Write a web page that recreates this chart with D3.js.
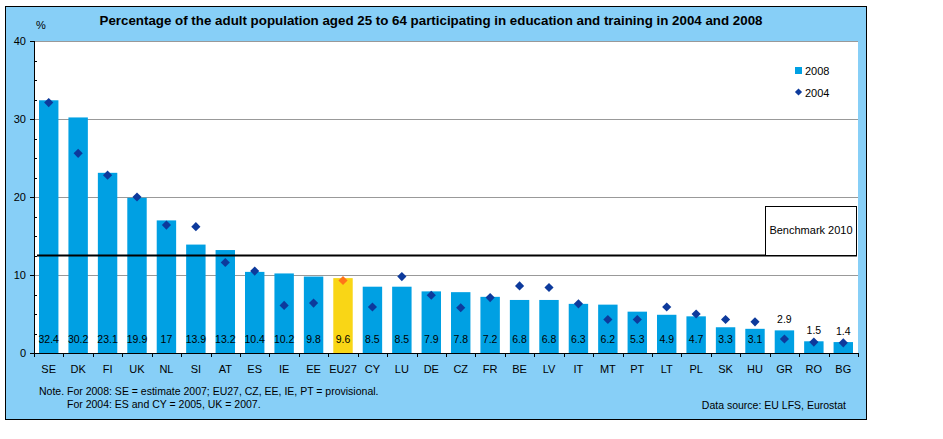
<!DOCTYPE html>
<html>
<head>
<meta charset="utf-8">
<script src="https://cdn.jsdelivr.net/npm/d3@7"></script>
<style>
  html, body { margin: 0; padding: 0; background: #ffffff; }
  svg { display: block; font-family: "Liberation Sans", Arial, sans-serif; }
</style>
</head>
<body>
<svg id="chart" width="943" height="439"></svg>
<script>
const categories = ["SE","DK","FI","UK","NL","SI","AT","ES","IE","EE","EU27","CY","LU","DE","CZ","FR","BE","LV","IT","MT","PT","LT","PL","SK","HU","GR","RO","BG"];
const values2008 = [32.4,30.2,23.1,19.9,17,13.9,13.2,10.4,10.2,9.8,9.6,8.5,8.5,7.9,7.8,7.2,6.8,6.8,6.3,6.2,5.3,4.9,4.7,3.3,3.1,2.9,1.5,1.4];
const values2004 = [32.1,25.6,22.8,20.0,16.4,16.2,11.6,10.5,6.1,6.4,9.3,5.9,9.8,7.4,5.8,7.1,8.6,8.4,6.3,4.3,4.3,5.9,5.0,4.3,4.0,1.8,1.4,1.3];
const seriesNames = ["2008","2004"];
const yTicks = [0,10,20,30,40];
const benchmarkValue = 12.5;
const benchmarkLabel = "Benchmark 2010";
const highlightCategory = "EU27";
const titleText = "Percentage of the adult population aged 25 to 64 participating in education and training in 2004 and 2008";
const noteLines = ["Note. For 2008: SE = estimate 2007; EU27, CZ, EE, IE, PT = provisional.", "For 2004: ES and CY = 2005, UK = 2007."];
const sourceText = "Data source: EU LFS, Eurostat";

const svg = d3.select("#chart");
const plot = {left: 34, right: 858, top: 41, bottom: 353};
const colors = {panel: "#87cff7", bar: "#00a0e3", barHi: "#f9d616", dot: "#0d3a9c", dotHi: "#ff7518", grid: "#999999"};

// outer panel
svg.append("rect").attr("x", 5.5).attr("y", 6.5).attr("width", 861).attr("height", 413)
  .attr("fill", colors.panel).attr("stroke", "#000").attr("stroke-width", 1);

// plot area
svg.append("rect").attr("x", plot.left).attr("y", plot.top).attr("width", plot.right - plot.left)
  .attr("height", plot.bottom - plot.top).attr("fill", "#fff");

const x = d3.scaleBand().domain(categories).range([plot.left, plot.right]).paddingInner(0.34).paddingOuter(0.17);
const y = d3.scaleLinear().domain([0, 40]).range([plot.bottom, plot.top]);

// gridlines
svg.append("g").selectAll("line").data(yTicks.filter(d => d > 0)).join("line")
  .attr("x1", plot.left).attr("x2", plot.right)
  .attr("y1", d => Math.round(y(d)) + 0.5).attr("y2", d => Math.round(y(d)) + 0.5)
  .attr("stroke", colors.grid).attr("stroke-width", 1);

// title
svg.append("text").attr("x", 431).attr("y", 24.5).attr("text-anchor", "middle")
  .attr("font-size", "13px").attr("font-weight", "bold").attr("fill", "#000")
  .attr("textLength", 663).attr("lengthAdjust", "spacingAndGlyphs").text(titleText);
svg.append("text").attr("x", 41).attr("y", 29).attr("text-anchor", "middle")
  .attr("font-size", "11px").text("%");

// bars
const data = categories.map((c, i) => ({c, v8: values2008[i], v4: values2004[i]}));
svg.append("g").selectAll("rect").data(data).join("rect")
  .attr("x", d => x(d.c)).attr("width", x.bandwidth())
  .attr("y", d => y(d.v8)).attr("height", d => y(0) - y(d.v8))
  .attr("fill", d => d.c === highlightCategory ? colors.barHi : colors.bar);

// benchmark line
svg.append("line").attr("x1", plot.left + 3).attr("x2", plot.right - 1)
  .attr("y1", y(benchmarkValue)).attr("y2", y(benchmarkValue))
  .attr("stroke", "#000").attr("stroke-width", 2);

// benchmark box
svg.append("rect").attr("x", 765.5).attr("y", 206.5).attr("width", 91).attr("height", y(benchmarkValue) - 206.5)
  .attr("fill", "#fff").attr("stroke", "#000").attr("stroke-width", 1);
svg.append("text").attr("x", 811).attr("y", 234).attr("text-anchor", "middle")
  .attr("font-size", "11px").text(benchmarkLabel);

// value labels
svg.append("g").selectAll("text").data(data).join("text")
  .attr("x", d => x(d.c) + x.bandwidth() / 2)
  .attr("y", d => d.v8 >= 3 ? y(0) - 10 : y(d.v8) - 7)
  .attr("text-anchor", "middle").attr("font-size", "10.5px").attr("fill", "#000")
  .text(d => d.v8);

// 2004 diamonds
const diamond = d3.symbol(d3.symbolSquare, 42);
svg.append("g").selectAll("path").data(data).join("path")
  .attr("d", diamond)
  .attr("transform", d => `translate(${x(d.c) + x.bandwidth() / 2},${y(d.v4)}) rotate(45)`)
  .attr("fill", d => d.c === highlightCategory ? colors.dotHi : colors.dot);

// y axis
const ya = svg.append("g");
ya.append("line").attr("x1", plot.left + 0.5).attr("x2", plot.left + 0.5).attr("y1", plot.top).attr("y2", plot.bottom + 3).attr("stroke", "#000");
ya.selectAll(".maj").data(yTicks).join("line")
  .attr("x1", plot.left - 4).attr("x2", plot.left)
  .attr("y1", d => Math.round(y(d)) + 0.5).attr("y2", d => Math.round(y(d)) + 0.5).attr("stroke", "#000");
ya.selectAll(".min").data(d3.range(2.5, 40, 2.5).filter(d => d % 10 !== 0)).join("line")
  .attr("x1", plot.left).attr("x2", plot.left + 3)
  .attr("y1", d => Math.round(y(d)) + 0.5).attr("y2", d => Math.round(y(d)) + 0.5).attr("stroke", "#000");
ya.selectAll("text").data(yTicks).join("text")
  .attr("x", 26).attr("y", d => y(d) + 4).attr("text-anchor", "end").attr("font-size", "11px").text(d => d);

// x axis
const xa = svg.append("g");
xa.append("line").attr("x1", plot.left).attr("x2", plot.right).attr("y1", plot.bottom + 0.5).attr("y2", plot.bottom + 0.5).attr("stroke", "#000");
const bounds = categories.map(c => x(c) - x.step() * x.paddingInner() / 2).concat([plot.right]);
xa.selectAll(".tk").data(bounds).join("line")
  .attr("x1", d => Math.round(d) + 0.5).attr("x2", d => Math.round(d) + 0.5)
  .attr("y1", plot.bottom).attr("y2", plot.bottom + 4).attr("stroke", "#000");
xa.selectAll("text").data(categories).join("text")
  .attr("x", d => x(d) + x.bandwidth() / 2).attr("y", 373)
  .attr("text-anchor", "middle").attr("font-size", "11px").text(d => d);

// legend
const lg = svg.append("g");
lg.append("rect").attr("x", 795).attr("y", 67).attr("width", 7).attr("height", 7).attr("fill", colors.bar);
lg.append("text").attr("x", 805).attr("y", 74.5).attr("font-size", "11px").text(seriesNames[0]);
lg.append("path").attr("d", d3.symbol(d3.symbolSquare, 26)).attr("transform", "translate(798.5,92) rotate(45)").attr("fill", colors.dot);
lg.append("text").attr("x", 805).attr("y", 96.5).attr("font-size", "11px").text(seriesNames[1]);

// notes
svg.append("text").attr("x", 39).attr("y", 394.5).attr("font-size", "10.5px").text(noteLines[0]);
svg.append("text").attr("x", 67).attr("y", 408).attr("font-size", "10.5px").text(noteLines[1]);
svg.append("text").attr("x", 846).attr("y", 408.5).attr("text-anchor", "end").attr("font-size", "10.5px").text(sourceText);
</script>
</body>
</html>
